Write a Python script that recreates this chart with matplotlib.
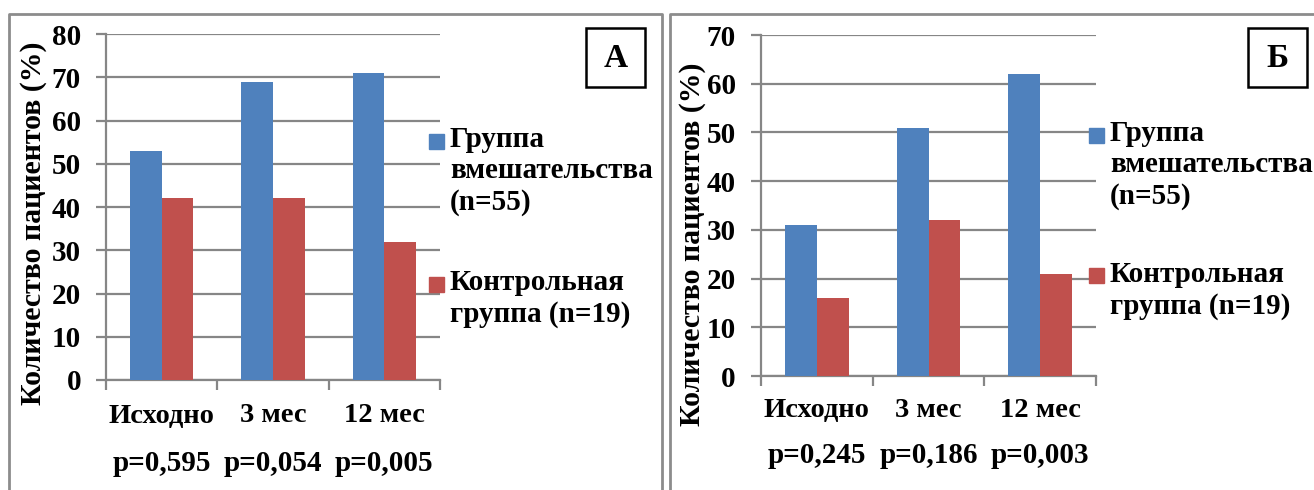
import matplotlib
matplotlib.use("Agg")
import matplotlib.pyplot as plt
from matplotlib.patches import Rectangle
from matplotlib.lines import Line2D
from matplotlib.transforms import blended_transform_factory

plt.rcParams['font.family'] = ['Liberation Serif', 'DejaVu Serif']
plt.rcParams['font.weight'] = 'bold'

categories = ["Исходно", "3 мес", "12 мес"]
series_names = ["Группа\nвмешательства\n(n=55)", "Контрольная\nгруппа (n=19)"]

panel_a_intervention = [53, 69, 71]
panel_a_control = [42, 42, 32]
panel_a_pvalues = ["p=0,595", "p=0,054", "p=0,005"]

panel_b_intervention = [31, 51, 62]
panel_b_control = [16, 32, 21]
panel_b_pvalues = ["p=0,245", "p=0,186", "p=0,003"]

BLUE = "#4F81BD"
RED = "#C0504D"
GRID = "#868686"
FRAME = "#8C8C8C"

W, H = 1314, 490
fig = plt.figure(figsize=(W / 100, H / 100), dpi=100)


def px_rect(x0, y0, x1, y1):
    """Pixel box (top-left origin) -> figure fraction [left, bottom, width, height]."""
    return [x0 / W, 1 - y1 / H, (x1 - x0) / W, (y1 - y0) / H]


def fx(x):
    return x / W


def fy(y):
    return 1 - y / H


def panel(rect, blue, red, pvals, ymax, letter, letter_box, legend_x, legend_y,
          ylabel_xy, xlabel_y, pval_y):
    ax = fig.add_axes(px_rect(*rect))
    n = len(categories)
    centers = [i + 0.5 for i in range(n)]
    bw = 0.285
    ax.bar([c - bw / 2 for c in centers], blue, width=bw, color=BLUE, zorder=3)
    ax.bar([c + bw / 2 for c in centers], red, width=bw, color=RED, zorder=3)
    ax.set_xlim(0, n)
    ax.set_ylim(0, ymax)
    ax.set_yticks(range(0, ymax + 1, 10))
    ax.yaxis.grid(True, color=GRID, linewidth=1.6, zorder=0)
    ax.set_axisbelow(True)
    for s in ("top", "right"):
        ax.spines[s].set_visible(False)
    for s in ("left", "bottom"):
        ax.spines[s].set_color(GRID)
        ax.spines[s].set_linewidth(1.6)
    ax.tick_params(axis="y", direction="out", length=7, width=1.6, color=GRID,
                   pad=11, labelsize=21)
    for t in ax.get_yticklabels():
        t.set_fontweight("bold")
    ax.set_xticks([i for i in range(n + 1)], minor=True)
    ax.set_xticks([])
    ax.tick_params(axis="x", which="minor", direction="out", length=7, width=1.6,
                   color=GRID)
    tr = blended_transform_factory(ax.transData, fig.transFigure)
    for c, lab, p in zip(centers, categories, pvals):
        ax.text(c, fy(xlabel_y), lab, transform=tr, ha="center", va="center",
                fontsize=20.5, fontweight="bold", clip_on=False)
        ax.text(c, fy(pval_y), p, transform=tr, ha="center", va="center",
                fontsize=21, fontweight="bold", clip_on=False)
    fig.text(fx(ylabel_xy[0]), fy(ylabel_xy[1]), "Количество пациентов (%)",
             rotation=90, ha="center", va="center", fontsize=21.5, fontweight="bold")

    # legend
    for (sq_y, txt_y, col, name) in zip(legend_y[0], legend_y[1], (BLUE, RED), series_names):
        fig.patches.append(Rectangle((fx(legend_x), fy(sq_y + 15)), 15 / W, 15 / H,
                                     transform=fig.transFigure, color=col))
        fig.text(fx(legend_x + 21), fy(txt_y), name, ha="left", va="top",
                 fontsize=21, fontweight="bold", linespacing=1.2)

    # panel letter box
    x0, y0, x1, y1 = letter_box
    fig.patches.append(Rectangle((fx(x0), fy(y1)), (x1 - x0) / W, (y1 - y0) / H,
                                 transform=fig.transFigure, fill=False,
                                 edgecolor="black", linewidth=1.8))
    fig.text(fx((x0 + x1) / 2), fy((y0 + y1) / 2 + 1), letter, ha="center",
             va="center", fontsize=24, fontweight="bold")
    return ax


panel((106, 34, 440, 380), panel_a_intervention, panel_a_control, panel_a_pvalues,
      80, "А", (586, 28, 645, 87), 429, ((134, 277), (126, 269)),
      (34, 223), 416, 463)
panel((761, 35, 1096, 376), panel_b_intervention, panel_b_control, panel_b_pvalues,
      70, "Б", (1248, 28, 1307, 87), 1089, ((128, 268), (120, 261)),
      (693, 244), 410, 455)

# outer frames of both panels
for xs, ys in (((9, 9, 662, 662), (490, 14, 14, 490)),
               ((670, 670, 1314), (490, 14, 14))):
    fig.lines.append(Line2D([fx(x) for x in xs], [fy(y) for y in ys],
                            transform=fig.transFigure, color=FRAME, linewidth=2))

fig.savefig("out.png", dpi=100)
